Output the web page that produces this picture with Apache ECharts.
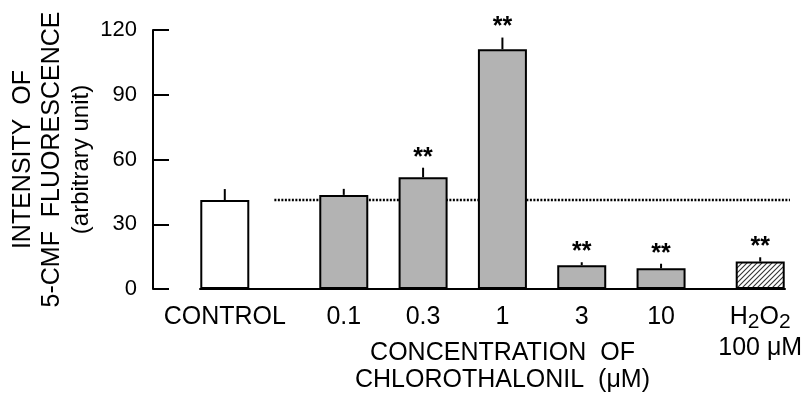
<!DOCTYPE html>
<html>
<head>
<meta charset="utf-8">
<script src="https://cdn.jsdelivr.net/npm/echarts@6/dist/echarts.min.js"></script>
<style>
html,body{margin:0;padding:0;background:#fff;}
#chart{width:807px;height:403px;}
</style>
</head>
<body>
<div id="chart"></div>
<script>
// ---- data ----
const categories = ['CONTROL', '0.1', '0.3', '1', '3', '10', 'H2O2\n100 μM'];
const means = [41.2, 43.6, 51.8, 111.1, 11.0, 9.6, 12.7];
const sds = [5.1, 2.8, 4.4, 5.4, 1.4, 2.1, 2.0];
const significant = [false, false, true, true, true, true, true];
const yTicks = [0, 30, 60, 90, 120];
const controlMean = means[0];

// ---- layout (slot positions on a fine category axis) ----
const slotIndex = [2, 14, 22, 30, 38, 46, 56];
const totalSlots = 59;
const dottedStartSlot = 7.3;
const dottedEndSlot = 58.5;

const FONT = '"Liberation Sans", Arial, sans-serif';

function hatchPattern() {
  const c = document.createElement('canvas');
  c.width = 5; c.height = 5;
  const g = c.getContext('2d');
  g.fillStyle = '#ffffff';
  g.fillRect(0, 0, 5, 5);
  g.strokeStyle = '#333333';
  g.lineWidth = 1.1;
  g.beginPath();
  g.moveTo(-1, 6); g.lineTo(6, -1);
  g.moveTo(-1, 1); g.lineTo(1, -1);
  g.moveTo(4, 6); g.lineTo(6, 4);
  g.stroke();
  return c;
}

const fills = ['#ffffff', '#b3b3b3', '#b3b3b3', '#b3b3b3', '#b3b3b3', '#b3b3b3',
  { image: hatchPattern(), repeat: 'repeat' }];

const slotLabels = new Array(totalSlots).fill('');
const barData = new Array(totalSlots).fill('-');
const errData = [];
categories.forEach((c, i) => {
  const s = slotIndex[i];
  slotLabels[s] = c;
  barData[s] = { value: means[i], itemStyle: { color: fills[i], borderColor: '#000', borderWidth: 2 } };
  errData.push([s, means[i], sds[i], significant[i] ? 1 : 0]);
});

const chart = echarts.init(document.getElementById('chart'));
chart.setOption({
  animation: false,
  backgroundColor: '#ffffff',
  textStyle: { fontFamily: FONT, color: '#000' },
  grid: { left: 200, right: 22, top: 30, bottom: 114, containLabel: false, outerBoundsMode: 'none' },
  xAxis: {
    type: 'category',
    data: slotLabels,
    axisLine: { show: true, lineStyle: { color: '#000', width: 2 } },
    axisTick: { show: false },
    axisLabel: {
      interval: 0,
      margin: 13,
      color: '#000',
      fontFamily: FONT,
      fontSize: 25,
      lineHeight: 31,
      formatter: function (v) {
        if (v.indexOf('H2O2') === 0) {
          return '{m|H}{s|2}{m|O}{s|2}\n{m|100 μM}';
        }
        return v;
      },
      rich: {
        m: { fontSize: 25, lineHeight: 31, fontFamily: FONT, color: '#000' },
        s: { fontSize: 21, lineHeight: 31, fontFamily: FONT, color: '#000', verticalAlign: 'bottom' }
      }
    },
    name: 'CONCENTRATION  OF\nCHLOROTHALONIL  (μM)',
    nameLocation: 'middle',
    nameGap: 51,
    nameMoveOverlap: false,
    nameTextStyle: { fontSize: 25, lineHeight: 27, color: '#000', fontFamily: FONT, padding: [0, 0, 0, 20] }
  },
  yAxis: {
    type: 'value',
    min: yTicks[0],
    max: yTicks[yTicks.length - 1],
    interval: yTicks[1] - yTicks[0],
    offset: 47,
    axisLine: { show: true, lineStyle: { color: '#000', width: 2 } },
    axisTick: { show: true, inside: true, length: 16, lineStyle: { color: '#000', width: 2 } },
    splitLine: { show: false },
    axisLabel: { margin: 16, fontSize: 22, color: '#000', fontFamily: FONT },
    name: '{a|INTENSITY  OF}\n{a|5-CMF  FLUORESCENCE}\n{b|(arbitrary unit)}',
    nameLocation: 'middle',
    nameRotate: 90,
    nameGap: 57,
    nameMoveOverlap: false,
    nameTextStyle: {
      color: '#000',
      fontFamily: FONT,
      rich: {
        a: { fontSize: 25, lineHeight: 29, fontFamily: FONT, color: '#000' },
        b: { fontSize: 24, lineHeight: 29, fontFamily: FONT, color: '#000' }
      }
    }
  },
  series: [
    {
      type: 'bar',
      data: barData,
      barWidth: 49,
      silent: true
    },
    {
      type: 'custom',
      silent: true,
      data: [[dottedStartSlot, dottedEndSlot, controlMean]],
      z: 1,
      renderItem: function (params, api) {
        const a = api.coord([api.value(0), api.value(2)]);
        const b = api.coord([api.value(1), api.value(2)]);
        return {
          type: 'line',
          shape: { x1: a[0], y1: a[1], x2: b[0], y2: b[1] },
          style: { stroke: '#000', lineWidth: 2.5, lineDash: [2, 1.5] }
        };
      }
    },
    {
      type: 'custom',
      silent: true,
      data: errData,
      z: 5,
      renderItem: function (params, api) {
        const x = api.value(0);
        const m = api.value(1);
        const sd = api.value(2);
        const sig = api.value(3);
        const p0 = api.coord([x, m]);
        const p1 = api.coord([x, m + sd]);
        const children = [{
          type: 'line',
          shape: { x1: p0[0], y1: p0[1], x2: p1[0], y2: p1[1] },
          style: { stroke: '#000', lineWidth: 2 }
        }];
        if (sig) {
          children.push({
            type: 'text',
            style: {
              text: '**', x: p1[0], y: p1[1] - 10,
              align: 'center', verticalAlign: 'middle',
              font: 'bold 25px ' + FONT, fill: '#000'
            }
          });
        }
        return { type: 'group', children: children };
      }
    }
  ]
});
</script>
</body>
</html>
